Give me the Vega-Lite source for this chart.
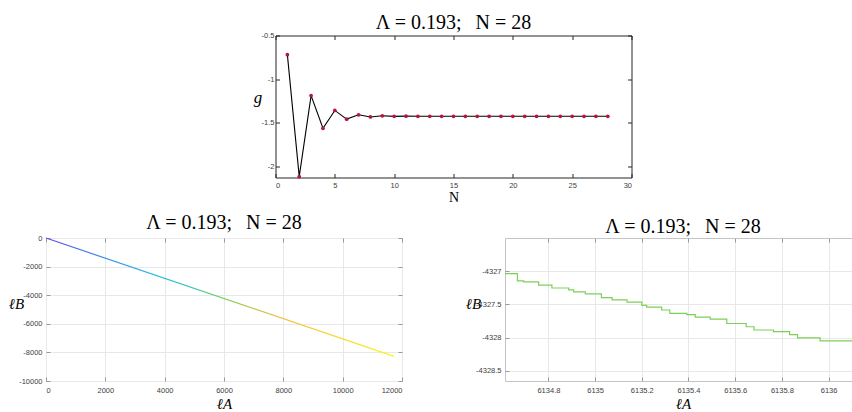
{
  "$schema": "https://vega.github.io/schema/vega-lite/v6.json",
  "background": "white",
  "padding": {"left": 7, "top": 12.5, "right": 0, "bottom": 0},
  "config": {
    "view": {"stroke": null},
    "axis": {
      "labelFont": "Liberation Sans", "labelFontSize": 7.5, "labelColor": "#404040",
      "domain": false, "tickSize": -4, "tickColor": "#262626",
      "titleFont": "Liberation Serif", "titleFontWeight": "normal", "titleColor": "#000000",
      "grid": false
    },
    "title": {"font": "Liberation Serif", "fontSize": 20, "fontWeight": "normal", "color": "#000000", "anchor": "middle", "baseline": "alphabetic", "offset": 3}
  },
  "datasets": {
    "gvals": [
      {"N": 1, "g": -0.72}, {"N": 2, "g": -2.12}, {"N": 3, "g": -1.19}, {"N": 4, "g": -1.565},
      {"N": 5, "g": -1.36}, {"N": 6, "g": -1.46}, {"N": 7, "g": -1.41}, {"N": 8, "g": -1.435},
      {"N": 9, "g": -1.422}, {"N": 10, "g": -1.428}, {"N": 11, "g": -1.426}, {"N": 12, "g": -1.427},
      {"N": 13, "g": -1.427}, {"N": 14, "g": -1.427}, {"N": 15, "g": -1.427}, {"N": 16, "g": -1.427},
      {"N": 17, "g": -1.427}, {"N": 18, "g": -1.427}, {"N": 19, "g": -1.427}, {"N": 20, "g": -1.427},
      {"N": 21, "g": -1.427}, {"N": 22, "g": -1.427}, {"N": 23, "g": -1.427}, {"N": 24, "g": -1.427},
      {"N": 25, "g": -1.427}, {"N": 26, "g": -1.427}, {"N": 27, "g": -1.427}, {"N": 28, "g": -1.427}
    ],
    "full": [{"lA": 0, "lB": 0}, {"lA": 11730, "lB": -8274}],
    "zoomed": [
      {"lA": 6134.600, "lB": -4327.034}, {"lA": 6134.667, "lB": -4327.144}, {"lA": 6134.694, "lB": -4327.159},
      {"lA": 6134.758, "lB": -4327.208}, {"lA": 6134.815, "lB": -4327.252}, {"lA": 6134.887, "lB": -4327.280},
      {"lA": 6134.908, "lB": -4327.310}, {"lA": 6134.958, "lB": -4327.340}, {"lA": 6135.027, "lB": -4327.396},
      {"lA": 6135.073, "lB": -4327.430}, {"lA": 6135.137, "lB": -4327.464}, {"lA": 6135.200, "lB": -4327.515},
      {"lA": 6135.221, "lB": -4327.540}, {"lA": 6135.285, "lB": -4327.584}, {"lA": 6135.320, "lB": -4327.634},
      {"lA": 6135.393, "lB": -4327.654}, {"lA": 6135.429, "lB": -4327.693}, {"lA": 6135.493, "lB": -4327.723},
      {"lA": 6135.564, "lB": -4327.788}, {"lA": 6135.647, "lB": -4327.837}, {"lA": 6135.681, "lB": -4327.886},
      {"lA": 6135.764, "lB": -4327.910}, {"lA": 6135.833, "lB": -4327.955}, {"lA": 6135.867, "lB": -4328.004},
      {"lA": 6135.964, "lB": -4328.050}, {"lA": 6136.139, "lB": -4328.050}
    ]
  },
  "vconcat": [
    {
      "width": 356, "height": 142,
      "title": {"text": "Λ = 0.193;\u2002\u2009N = 28", "dy": 4.5},
      "view": {"stroke": "#262626", "strokeWidth": 1},
      "data": {"name": "gvals"},
      "layer": [
        {
          "mark": {"type": "line", "color": "#000000", "strokeWidth": 1.1},
          "encoding": {
            "x": {"field": "N", "type": "quantitative", "scale": {"domain": [0, 30], "nice": false},
                  "axis": {"values": [0, 5, 10, 15, 20, 25, 30], "labelPadding": 8, "title": "N", "titleFont": "Liberation Serif", "titleFontSize": 14, "titleY": 24, "titleBaseline": "alphabetic", "labelExpr": "replace(format(datum.value, '~g'), '\u2212', '-')"}},
            "y": {"field": "g", "type": "quantitative", "scale": {"domain": [-2.13, -0.5], "nice": false, "zero": false},
                  "axis": {"values": [-2, -1.5, -1, -0.5], "labelPadding": 5.5, "title": "g", "titleFontStyle": "italic", "titleFontSize": 17, "titleAngle": 0, "titleAlign": "center", "titleBaseline": "middle", "titleX": -18, "titleY": 62, "labelExpr": "replace(format(datum.value, '~g'), '\u2212', '-')"}}
          }
        },
        {
          "mark": {"type": "point", "filled": true, "color": "#b3173b", "size": 14, "opacity": 1},
          "encoding": {
            "x": {"field": "N", "type": "quantitative", "axis": {"orient": "top", "values": [0, 5, 10, 15, 20, 25, 30], "labels": false, "title": null}},
            "y": {"field": "g", "type": "quantitative", "axis": {"orient": "right", "values": [-2, -1.5, -1, -0.5], "labels": false, "title": null}}
          }
        }
      ],
      "resolve": {"axis": {"x": "independent", "y": "independent"}}
    },
    {
      "hconcat": [
        {
          "width": 356, "height": 143,
          "title": {"text": "Λ = 0.193;\u2002\u2009N = 28", "dy": 2},
          "view": {"stroke": "#c4c4c4", "strokeWidth": 1},
          "data": {"name": "full"},
          "layer": [
            {
              "mark": {"type": "line", "strokeWidth": 1.2, "color": {"gradient": "linear", "x1": 0, "y1": 0, "x2": 1, "y2": 0, "stops": [
                {"offset": 0, "color": "#5b4cf0"}, {"offset": 0.17, "color": "#3d8ee8"}, {"offset": 0.34, "color": "#22c0d8"},
                {"offset": 0.43, "color": "#40c8a8"}, {"offset": 0.51, "color": "#7dcb62"}, {"offset": 0.6, "color": "#bcc84a"},
                {"offset": 0.68, "color": "#f0c040"}, {"offset": 0.8, "color": "#f6d234"}, {"offset": 1, "color": "#f9f520"}]}},
              "encoding": {
                "x": {"field": "lA", "type": "quantitative", "scale": {"domain": [0, 12000], "nice": false},
                      "axis": {"values": [0, 2000, 4000, 6000, 8000, 10000, 12000], "grid": true, "gridColor": "#e8e8e8", "tickColor": "#999999", "labelPadding": 9, "title": "ℓA", "titleFontStyle": "italic", "titleFontSize": 15, "titleY": 27, "titleBaseline": "alphabetic", "labelExpr": "replace(format(datum.value, '~g'), '\u2212', '-')"}},
                "y": {"field": "lB", "type": "quantitative", "scale": {"domain": [-10000, 0], "nice": false, "zero": false},
                      "axis": {"values": [-10000, -8000, -6000, -4000, -2000, 0], "grid": true, "gridColor": "#e8e8e8", "tickColor": "#999999", "labelPadding": 8, "title": "ℓB", "titleFontStyle": "italic", "titleFontSize": 15, "titleAngle": 0, "titleAlign": "center", "titleBaseline": "middle", "titleX": -30, "titleY": 65, "labelExpr": "replace(format(datum.value, '~g'), '\u2212', '-')"}}
              }
            },
            {
              "mark": {"type": "point", "opacity": 0, "clip": true},
              "encoding": {
                "x": {"field": "lA", "type": "quantitative", "axis": {"orient": "top", "values": [0, 2000, 4000, 6000, 8000, 10000, 12000], "labels": false, "title": null, "tickColor": "#999999"}},
                "y": {"field": "lB", "type": "quantitative", "axis": {"orient": "right", "values": [-10000, -8000, -6000, -4000, -2000, 0], "labels": false, "title": null, "tickColor": "#999999"}}
              }
            }
          ],
          "resolve": {"axis": {"x": "independent", "y": "independent"}}
        },
        {
          "width": 356, "height": 143,
          "title": {"text": "Λ = 0.193;\u2002\u2009N = 28", "dy": 2},
          "view": {"stroke": "#c4c4c4", "strokeWidth": 1},
          "data": {"name": "zoomed"},
          "layer": [
            {
              "mark": {"type": "line", "interpolate": "step-after", "color": "#7ccf5a", "strokeWidth": 1.2, "clip": true},
              "encoding": {
                "x": {"field": "lA", "type": "quantitative", "scale": {"domain": [6134.614, 6136.139], "nice": false, "zero": false},
                      "axis": {"values": [6134.8, 6135, 6135.2, 6135.4, 6135.6, 6135.8, 6136], "grid": true, "gridColor": "#e8e8e8", "tickColor": "#999999", "labelPadding": 9, "title": "ℓA", "titleFontStyle": "italic", "titleFontSize": 15, "titleY": 27, "titleBaseline": "alphabetic", "labelExpr": "replace(format(datum.value, '~g'), '\u2212', '-')"}},
                "y": {"field": "lB", "type": "quantitative", "scale": {"domain": [-4328.656, -4326.497], "nice": false, "zero": false},
                      "axis": {"values": [-4328.5, -4328, -4327.5, -4327], "grid": true, "gridColor": "#e8e8e8", "tickColor": "#999999", "labelPadding": 8, "title": "ℓB", "titleFontStyle": "italic", "titleFontSize": 15, "titleAngle": 0, "titleAlign": "center", "titleBaseline": "middle", "titleX": -32, "titleY": 65, "labelExpr": "replace(format(datum.value, '~g'), '\u2212', '-')"}}
              }
            },
            {
              "mark": {"type": "point", "opacity": 0, "clip": true},
              "encoding": {
                "x": {"field": "lA", "type": "quantitative", "axis": {"orient": "top", "values": [6134.8, 6135, 6135.2, 6135.4, 6135.6, 6135.8, 6136], "labels": false, "title": null, "tickColor": "#999999"}},
                "y": {"field": "lB", "type": "quantitative", "axis": {"orient": "right", "values": [-4328.5, -4328, -4327.5, -4327], "labels": false, "title": null, "tickColor": "#999999"}}
              }
            }
          ],
          "resolve": {"axis": {"x": "independent", "y": "independent"}}
        }
      ],
      "spacing": 103,
      "bounds": "flush"
    }
  ],
  "spacing": 6.5,
  "bounds": "full",
  "center": true
}
